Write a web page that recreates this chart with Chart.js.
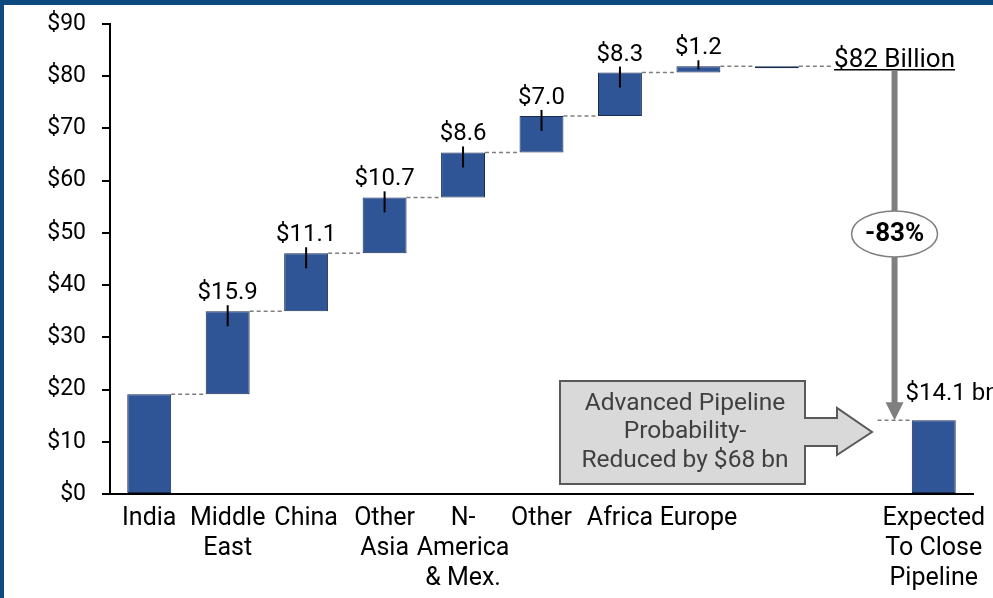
<!DOCTYPE html>
<html>
<head>
<meta charset="utf-8">
<script src="https://cdn.jsdelivr.net/npm/chart.js@4/dist/chart.umd.min.js"></script>
<style>
  body { margin: 0; background: #fff; }
  #wrap { position: relative; width: 993px; height: 598px; overflow: hidden; }
  #frame { position: absolute; left: 0; top: 0; width: 989px; height: 593px;
    border-top: 5px solid #0c4a80; border-left: 4px solid #0c4a80; pointer-events: none; }
  canvas { position: absolute; left: 0; top: 0; }
</style>
</head>
<body>
<div id="wrap">
  <canvas id="myChart" width="993" height="598"></canvas>
  <div id="frame"></div>
</div>
<script>
const categories = [
  ['India'], ['Middle', 'East'], ['China'], ['Other', 'Asia'], ['N-', 'America', '& Mex.'],
  ['Other'], ['Africa'], ['Europe'], '', '', ['Expected', 'To Close', 'Pipeline']
];
const regionValues = [19.1, 15.9, 11.1, 10.7, 8.6, 7.0, 8.3, 1.2];
const totalLabel = '$82 Billion';
const expectedValue = 14.1;
const reductionLabel = '-83%';
const calloutLines = ['Advanced Pipeline', 'Probability-', 'Reduced by $68 bn'];
const yMax = 90;
const yStep = 10;

const FONT = 'Roboto';
const BLUE = '#2f5597';

// build floating bars for the waterfall
const cumulative = [];
let run = 0;
for (let i = 0; i < regionValues.length; i++) {
  run += regionValues[i];
  cumulative.push(+run.toFixed(1));
}
const total = cumulative[cumulative.length - 1];
const barData = [];
for (let i = 0; i < regionValues.length; i++) {
  barData.push([i === 0 ? 0 : cumulative[i - 1], cumulative[i]]);
}
barData.push([total - 0.35, total]);   // total shown as a thin line
barData.push(null);
barData.push([0, expectedValue]);

function dashed(ctx, x1, x2, yy) {
  ctx.save();
  ctx.strokeStyle = '#7f7f7f';
  ctx.lineWidth = 1.5;
  ctx.setLineDash([4, 3]);
  ctx.beginPath();
  ctx.moveTo(x1, yy);
  ctx.lineTo(x2, yy);
  ctx.stroke();
  ctx.restore();
}

const waterfallExtras = {
  id: 'waterfallExtras',
  beforeDatasetsDraw(chart) {
    const ctx = chart.ctx;
    const ys = chart.scales.y;
    const xs = chart.scales.x;
    const bars = chart.getDatasetMeta(0).data;
    for (let i = 0; i < regionValues.length; i++) {
      const a = bars[i], b = bars[i + 1];
      dashed(ctx, a.x + a.width / 2, b.x - b.width / 2, ys.getPixelForValue(cumulative[i]));
    }
    const arrowX = (xs.getPixelForValue(9) + xs.getPixelForValue(10)) / 2;
    const t = bars[8];
    dashed(ctx, t.x + t.width / 2, arrowX - 62, ys.getPixelForValue(total));
    const e = bars[10];
    dashed(ctx, arrowX - 17, e.x - e.width / 2, ys.getPixelForValue(expectedValue));
  },
  afterDatasetsDraw(chart) {
    const ctx = chart.ctx;
    const ys = chart.scales.y;
    const xs = chart.scales.x;
    const bars = chart.getDatasetMeta(0).data;

    // leader lines and value labels
    ctx.save();
    ctx.font = '24px ' + FONT;
    ctx.fillStyle = '#000';
    ctx.textAlign = 'center';
    ctx.textBaseline = 'alphabetic';
    for (let i = 1; i < regionValues.length; i++) {
      const bar = bars[i];
      const top = ys.getPixelForValue(cumulative[i]);
      const h = ys.getPixelForValue(cumulative[i - 1]) - top;
      ctx.strokeStyle = '#000';
      ctx.lineWidth = 2;
      ctx.beginPath();
      ctx.moveTo(bar.x, top - 6);
      ctx.lineTo(bar.x, top + Math.min(15, h * 0.5));
      ctx.stroke();
      ctx.fillText('$' + regionValues[i].toFixed(1), bar.x, top - 12);
    }
    ctx.restore();

    const arrowX = (xs.getPixelForValue(9) + xs.getPixelForValue(10)) / 2;
    const topY = ys.getPixelForValue(total);
    const botY = ys.getPixelForValue(expectedValue);

    // total label
    ctx.save();
    ctx.font = '26px ' + FONT;
    ctx.fillStyle = '#000';
    ctx.textAlign = 'center';
    ctx.fillText(totalLabel, arrowX, topY + 1);
    const w = ctx.measureText(totalLabel).width;
    ctx.strokeStyle = '#000';
    ctx.lineWidth = 1.5;
    ctx.beginPath();
    ctx.moveTo(arrowX - w / 2, topY + 3.5);
    ctx.lineTo(arrowX + w / 2, topY + 3.5);
    ctx.stroke();

    // vertical arrow
    ctx.strokeStyle = '#7f7f7f';
    ctx.fillStyle = '#7f7f7f';
    ctx.lineWidth = 6;
    ctx.beginPath();
    ctx.moveTo(arrowX, topY + 4);
    ctx.lineTo(arrowX, botY - 16);
    ctx.stroke();
    ctx.beginPath();
    ctx.moveTo(arrowX - 9, botY - 18);
    ctx.lineTo(arrowX + 9, botY - 18);
    ctx.lineTo(arrowX, botY);
    ctx.closePath();
    ctx.fill();

    // -83% bubble
    const cy = ys.getPixelForValue(49.8);
    ctx.beginPath();
    ctx.ellipse(arrowX, cy, 43, 23, 0, 0, Math.PI * 2);
    ctx.fillStyle = '#fff';
    ctx.fill();
    ctx.lineWidth = 1.5;
    ctx.strokeStyle = '#7f7f7f';
    ctx.stroke();
    ctx.fillStyle = '#000';
    ctx.font = 'bold 26px ' + FONT;
    ctx.textBaseline = 'middle';
    ctx.fillText(reductionLabel, arrowX, cy + 1);

    // expected label
    ctx.textAlign = 'left';
    ctx.textBaseline = 'alphabetic';
    ctx.font = '24px ' + FONT;
    ctx.fillText('$' + expectedValue.toFixed(1) + ' bn', arrowX + 11, botY - 20);

    // callout arrow box
    ctx.beginPath();
    ctx.moveTo(560, 381);
    ctx.lineTo(805, 381);
    ctx.lineTo(805, 418);
    ctx.lineTo(837, 418);
    ctx.lineTo(837, 408);
    ctx.lineTo(872, 432);
    ctx.lineTo(837, 455);
    ctx.lineTo(837, 446);
    ctx.lineTo(805, 446);
    ctx.lineTo(805, 484);
    ctx.lineTo(560, 484);
    ctx.closePath();
    ctx.fillStyle = '#d9d9d9';
    ctx.fill();
    ctx.lineWidth = 2;
    ctx.strokeStyle = '#595959';
    ctx.stroke();
    ctx.fillStyle = '#404040';
    ctx.font = '24.5px ' + FONT;
    ctx.textAlign = 'center';
    ctx.textBaseline = 'middle';
    const ly = [404, 432, 461];
    for (let i = 0; i < calloutLines.length; i++) {
      ctx.fillText(calloutLines[i], 685, ly[i]);
    }
    ctx.restore();
  }
};

function noPad(scale) {
  scale.paddingTop = 0;
  scale.paddingBottom = 0;
  scale.paddingLeft = 0;
  scale.paddingRight = 0;
}

new Chart('myChart', {
  type: 'bar',
  data: {
    labels: categories,
    datasets: [{
      data: barData,
      backgroundColor: BLUE,
      borderColor: '#1a2c50',
      borderWidth: 1,
      borderSkipped: false,
      barPercentage: 0.56,
      categoryPercentage: 1,
    }]
  },
  options: {
    responsive: false,
    animation: false,
    layout: { padding: { left: 0, top: 24, right: 20, bottom: 0 } },
    plugins: {
      legend: { display: false },
      tooltip: { enabled: false },
    },
    scales: {
      x: {
        grid: { display: false, drawTicks: false },
        border: { display: true, color: '#000', width: 2 },
        ticks: {
          color: '#000',
          font: { family: FONT, size: 25, lineHeight: 1.2 },
          padding: 10,
          maxRotation: 0,
          autoSkip: false,
        },
        afterFit(scale) { scale.height = 104; noPad(scale); },
      },
      y: {
        min: 0,
        max: yMax,
        grid: { drawOnChartArea: false, drawTicks: true, tickLength: 8, color: '#000', lineWidth: 2 },
        border: { display: true, color: '#000', width: 2 },
        ticks: {
          stepSize: yStep,
          color: '#000',
          padding: 16,
          font: { family: FONT, size: 23 },
          callback: (v) => '$' + v,
        },
        afterFit(scale) { scale.width = 110; noPad(scale); },
      }
    }
  },
  plugins: [waterfallExtras]
});
</script>
</body>
</html>
